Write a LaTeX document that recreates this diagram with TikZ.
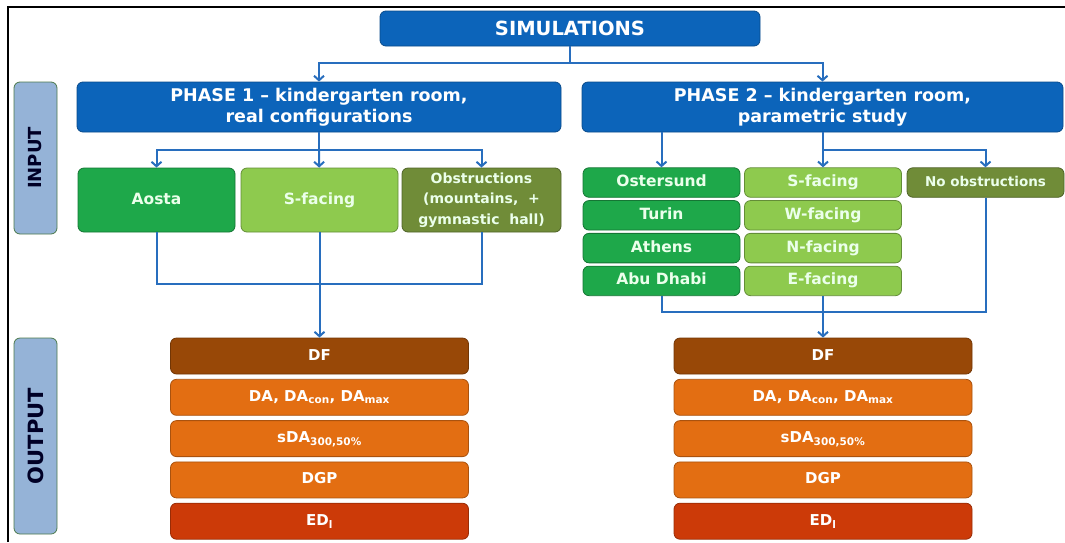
\documentclass[tikz,border=0pt]{standalone}
\usepackage{fontspec}
\setmainfont{DejaVu Sans}
\usetikzlibrary{arrows.meta,positioning}
\definecolor{simblue}{RGB}{12,100,186}
\definecolor{lineblue}{RGB}{40,110,190}
\definecolor{tagblue}{RGB}{149,179,215}
\definecolor{citygreen}{RGB}{30,168,74}
\definecolor{facegreen}{RGB}{142,202,78}
\definecolor{olive}{RGB}{112,140,56}
\definecolor{dfbrown}{RGB}{152,72,7}
\definecolor{outorange}{RGB}{227,110,18}
\definecolor{edred}{RGB}{204,58,8}
\tikzset{
	blue_box/.style = {shape=rectangle, rounded corners=6pt, draw=simblue!75!black, fill=simblue, line width=0.8pt, text=white, align=center, inner sep=2pt, font=\bfseries\fontsize{17.5}{21}\selectfont},
	tag_box/.style = {shape=rectangle, rounded corners=6pt, draw=black!55!green!40!gray, fill=tagblue, line width=0.8pt, text=black!85!blue, inner sep=2pt, rotate=90, minimum height=43pt},
	in_box/.style = {shape=rectangle, rounded corners=6pt, line width=0.8pt, text=white!92!green, align=center, inner sep=2pt, minimum width=157pt, font=\bfseries\fontsize{15.5}{18}\selectfont},
	one_line/.style = {text height=8pt, text depth=0pt},
	city_box/.style = {in_box, one_line, draw=citygreen!70!black, fill=citygreen},
	face_box/.style = {in_box, one_line, draw=facegreen!70!black, fill=facegreen},
	obst_box/.style = {in_box, draw=olive!70!black, fill=olive},
	out_box/.style = {shape=rectangle, rounded corners=6pt, line width=0.8pt, text=white, inner sep=2pt, minimum width=298pt, minimum height=36pt, one_line, font=\bfseries\fontsize{15}{18}\selectfont}
}

\begin{document}
\begin{tikzpicture}[x=1pt, y=-1pt,
	edge_style/.style={draw=lineblue, line width=2pt},
	arrow_style/.style={edge_style, -{Straight Barb[length=4.5pt,width=10pt]}}
	]
	\useasboundingbox (0,0) rectangle (1065,542);
	\draw[line width=1.2pt] (8,542) -- (8,7) -- (1065,7);

	% all the nodes
	\node[blue_box, minimum width=380pt, minimum height=35pt, font=\bfseries\fontsize{19.5}{22}\selectfont] (sim) at (570,28.5) {SIMULATIONS};
	\node[blue_box, minimum width=484pt, minimum height=50pt] (ph1) at (319,107) {PHASE 1 -- kindergarten room,\\ real configurations};
	\node[blue_box, minimum width=481pt, minimum height=50pt] (ph2) at (822.5,107) {PHASE 2 -- kindergarten room,\\ parametric study};

	\node[tag_box, minimum width=152pt, font=\bfseries\fontsize{18}{20}\selectfont] (input) at (35.5,158) {INPUT};
	\node[tag_box, minimum width=196pt, font=\bfseries\fontsize{21}{23}\selectfont] (output) at (35.5,436) {OUTPUT};

	\node[city_box, minimum height=64pt] (aosta) at (156.5,200) {Aosta};
	\node[face_box, minimum height=64pt] (sfac1) at (319.5,200) {S-facing};
	\node[obst_box, minimum height=64pt, minimum width=159pt, font=\bfseries\fontsize{14}{20.5}\selectfont] (obst) at (481.5,200) {Obstructions\\ (mountains,\ \ +\\ gymnastic\ \ hall)};

	\node[city_box, minimum height=29.5pt] (ost) at (661.5,182.5) {Ostersund};
	\node[city_box, minimum height=29.5pt, below=2.5pt of ost] (tur) {Turin};
	\node[city_box, minimum height=29.5pt, below=2.5pt of tur] (ath) {Athens};
	\node[city_box, minimum height=29.5pt, below=2.5pt of ath] (abu) {Abu Dhabi};
	\node[face_box, minimum height=29.5pt] (sfac2) at (823,182.5) {S-facing};
	\node[face_box, minimum height=29.5pt, below=2.5pt of sfac2] (wfac) {W-facing};
	\node[face_box, minimum height=29.5pt, below=2.5pt of wfac] (nfac) {N-facing};
	\node[face_box, minimum height=29.5pt, below=2.5pt of nfac] (efac) {E-facing};
	\node[obst_box, one_line, minimum height=29.5pt, font=\bfseries\fontsize{13.5}{15}\selectfont] (noobs) at (985.5,182.5) {No obstructions};

	\foreach \side/\xc in {l/319.5, r/823}{
		\node[out_box, draw=dfbrown!75!black, fill=dfbrown] (df\side) at (\xc,356) {DF};
		\node[out_box, draw=outorange!75!black, fill=outorange, below=4.5pt of df\side] (da\side) {DA,\ DA\textsubscript{con}, DA\textsubscript{max}};
		\node[out_box, draw=outorange!75!black, fill=outorange, below=4.5pt of da\side] (sda\side) {sDA\textsubscript{300,50\%}};
		\node[out_box, draw=outorange!75!black, fill=outorange, below=4.5pt of sda\side] (dgp\side) {DGP};
		\node[out_box, draw=edred!75!black, fill=edred, below=4.5pt of dgp\side] (ed\side) {ED\textsubscript{l}};
	}

	\coordinate (j0) at (570,63);
	\coordinate (j1) at (319,150);
	\coordinate (j2) at (823,150);
	\coordinate (m1) at (319.5,284);
	\coordinate (m2) at (823,312);

	% simulations to phases
	\draw[edge_style] (sim) -- (j0);
	\draw[arrow_style] (j0) -| (ph1);
	\draw[arrow_style] (j0) -| (ph2);

	% phase 1 inputs
	\draw[edge_style] (ph1) -- (j1);
	\draw[arrow_style] (j1) -| (aosta);
	\draw[arrow_style] (j1) -- (sfac1);
	\draw[arrow_style] (j1) -| (obst);
	\draw[edge_style] (aosta) |- (m1);
	\draw[edge_style] (obst) |- (m1);
	\draw[arrow_style] (sfac1) -- (dfl);

	% phase 2 inputs
	\draw[arrow_style] (ph2.south -| ost) -- (ost);
	\draw[arrow_style] (ph2.south -| sfac2) -- (sfac2);
	\draw[arrow_style] (j2) -| (noobs);
	\draw[edge_style] (abu) |- (m2);
	\draw[edge_style] (noobs) |- (m2);
	\draw[arrow_style] (efac) -- (dfr);
\end{tikzpicture}
\end{document}
